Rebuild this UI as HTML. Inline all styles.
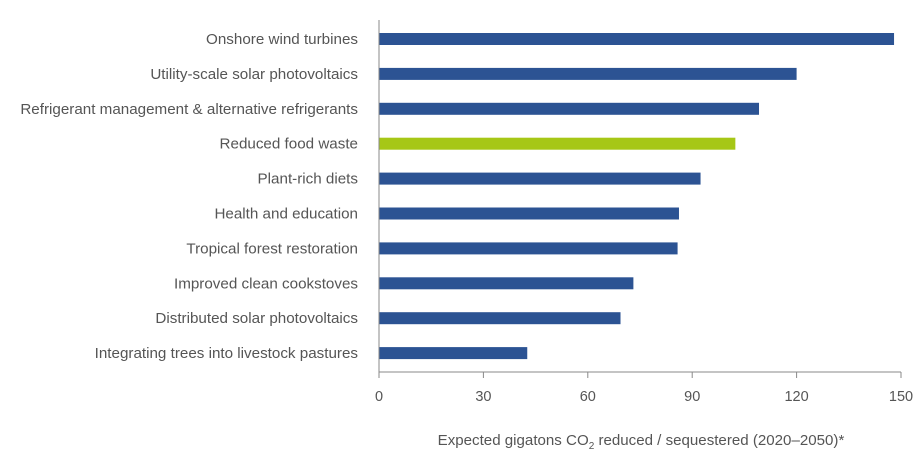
<!DOCTYPE html>
<html><head><meta charset="utf-8"><style>
body{margin:0;background:#fff;width:924px;height:458px;overflow:hidden}
svg{font-family:"Liberation Sans",sans-serif}
</style></head><body>
<svg id="chart" width="924" height="458">
<g id="bars"></g><g id="axes"></g>
</svg>
<script>
const categories=["Onshore wind turbines","Utility-scale solar photovoltaics","Refrigerant management & alternative refrigerants","Reduced food waste","Plant-rich diets","Health and education","Tropical forest restoration","Improved clean cookstoves","Distributed solar photovoltaics","Integrating trees into livestock pastures"];
const values=[148,120,109.2,102.4,92.4,86.2,85.8,73.1,69.4,42.6];
const highlight=["Reduced food waste"];
const ticks=[0,30,60,90,120,150];
const NS="http://www.w3.org/2000/svg";
const x0=379,x1=901,xmax=150;
const xs=v=>x0+(v/xmax)*(x1-x0);
const yc=i=>39+i*34.9;
const bars=document.getElementById('bars'),axes=document.getElementById('axes');
function mk(tag,attrs,parent,text){const e=document.createElementNS(NS,tag);for(const k in attrs)e.setAttribute(k,attrs[k]);if(text!==undefined)e.textContent=text;parent.appendChild(e);return e;}
categories.forEach((c,i)=>{
  const r=mk('rect',{x:x0,y:yc(i)-6,width:xs(values[i])-x0,height:12,fill:highlight.includes(c)?'#a6c716':'#2c5393'},bars);
  
  
  const t=mk('text',{x:358,y:yc(i)+5,'text-anchor':'end','font-size':'15.2',fill:'#555'},axes,c);
  
  
});
const ya=mk('line',{x1:x0,y1:20,x2:x0,y2:372,stroke:'#888','stroke-width':1},axes);


const xa=mk('line',{x1:x0,y1:372,x2:x1,y2:372,stroke:'#888','stroke-width':1},axes);


ticks.forEach(v=>{
  const l=mk('line',{x1:xs(v),y1:372,x2:xs(v),y2:378,stroke:'#888'},axes);
  
  
  const t=mk('text',{x:xs(v),y:401,'text-anchor':'middle','font-size':'14.5',fill:'#555'},axes,String(v));
  
  
});
const title=mk('text',{x:641,y:445,'text-anchor':'middle','font-size':'15.1',fill:'#555'},axes);


mk('tspan',{},title,'Expected gigatons CO');
mk('tspan',{dy:'4','font-size':'10'},title,'2');
mk('tspan',{dy:'-4'},title,' reduced / sequestered (2020–2050)*');
</script>
</body></html>
